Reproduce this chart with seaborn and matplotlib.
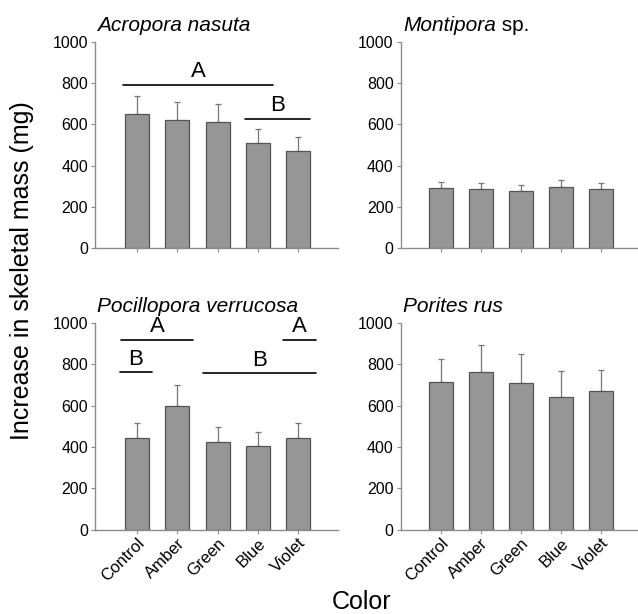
import matplotlib
matplotlib.use('Agg')
import matplotlib.pyplot as plt
import numpy as np
import pandas as pd
import seaborn as sns

# 数据
colors = ['Control', 'Amber', 'Green', 'Blue', 'Violet']

acropora_mean = [651, 623, 610, 510, 472]
acropora_err = [85, 84, 86, 68, 64]

montipora_mean = [290, 285, 276, 295, 285]
montipora_err = [32, 32, 32, 33, 32]

pocillopora_mean = [445, 597, 424, 404, 444]
pocillopora_err = [73, 101, 73, 67, 74]

porites_mean = [714, 764, 708, 642, 670]
porites_err = [112, 130, 140, 128, 105]

sns.set_theme(style='white')
plt.rcParams['font.family'] = ['Liberation Sans', 'DejaVu Sans']
plt.rcParams['text.color'] = 'black'
plt.rcParams['xtick.color'] = 'black'
plt.rcParams['ytick.color'] = 'black'

GRAY = '#969696'
EDGE = '#555555'
AXIS = '#8c8c8c'

fig = plt.figure(figsize=(6.38, 6.14), dpi=100)

# 子图位置 [left, bottom, width, height]
positions = {
    'tl': [0.149, 0.596, 0.381, 0.336],
    'tr': [0.628, 0.596, 0.370, 0.336],
    'bl': [0.149, 0.137, 0.381, 0.337],
    'br': [0.628, 0.137, 0.370, 0.337],
}

panels = [
    ('tl', 'Acropora nasuta', '', acropora_mean, acropora_err, (-1.05, 5.0)),
    ('tr', 'Montipora', ' sp.', montipora_mean, montipora_err, (-1.0, 4.9)),
    ('bl', 'Pocillopora verrucosa', '', pocillopora_mean, pocillopora_err, (-1.05, 5.0)),
    ('br', 'Porites rus', '', porites_mean, porites_err, (-1.0, 4.9)),
]

axes = {}
for key, italic, plain, means, errs, xlim in panels:
    ax = fig.add_axes(positions[key])
    axes[key] = ax
    df = pd.DataFrame({'Color': colors, 'Mass': means})
    sns.barplot(data=df, x='Color', y='Mass', order=colors, color=GRAY,
                saturation=1, width=0.6, edgecolor=EDGE, linewidth=0.9,
                errorbar=None, ax=ax, zorder=3)
    ax.errorbar(np.arange(len(colors)), means,
                yerr=[np.zeros(len(errs)), errs], fmt='none',
                ecolor='#777777', elinewidth=0.9, capsize=2.5, capthick=0.9,
                zorder=2)
    ax.set_xlim(*xlim)
    ax.set_ylim(0, 1000)
    ax.set_yticks(range(0, 1001, 200))
    ax.set_xlabel('')
    ax.set_ylabel('')
    for side in ['top', 'right']:
        ax.spines[side].set_visible(False)
    for side in ['left', 'bottom']:
        ax.spines[side].set_color(AXIS)
        ax.spines[side].set_linewidth(1.0)
    ax.tick_params(axis='y', direction='out', length=3, width=0.8,
                   color=AXIS, labelsize=11.5, pad=2, left=True)
    ax.tick_params(axis='x', direction='out', length=3, width=0.8,
                   color=AXIS, labelsize=12, pad=1, bottom=True)
    if key in ('bl', 'br'):
        ax.set_xticks(range(len(colors)))
        ax.set_xticklabels(colors, rotation=45, ha='right',
                           rotation_mode='anchor')
    else:
        ax.set_xticklabels([])
    # 标题
    t = ax.text(0.01, 1.035, italic, transform=ax.transAxes, fontsize=15,
                style='italic', ha='left', va='bottom')
    if plain:
        ax.annotate(plain, xycoords=t, xy=(1, 0), va='bottom', fontsize=15)

# 显著性标记
sig_marks = {
    'tl': [(-0.35, 3.38, 792, 'A'), (2.69, 4.3, 627, 'B')],
    'bl': [(-0.4, 1.4, 918, 'A'), (-0.43, 0.37, 761, 'B'),
           (1.64, 4.45, 756, 'B'), (3.64, 4.45, 918, 'A')],
}
for key, marks in sig_marks.items():
    ax = axes[key]
    for x0, x1, y, lab in marks:
        ax.plot([x0, x1], [y, y], color='black', lw=1.2, zorder=4,
                clip_on=False)
        ax.text((x0 + x1) / 2, y + 12, lab, ha='center', va='bottom',
                fontsize=16)

fig.text(0.034, 0.56, 'Increase in skeletal mass (mg)', rotation=90,
         ha='center', va='center', fontsize=18)
fig.text(0.567, 0.02, 'Color', ha='center', va='center', fontsize=18)

fig.savefig('out.png', dpi=100, facecolor='white')
